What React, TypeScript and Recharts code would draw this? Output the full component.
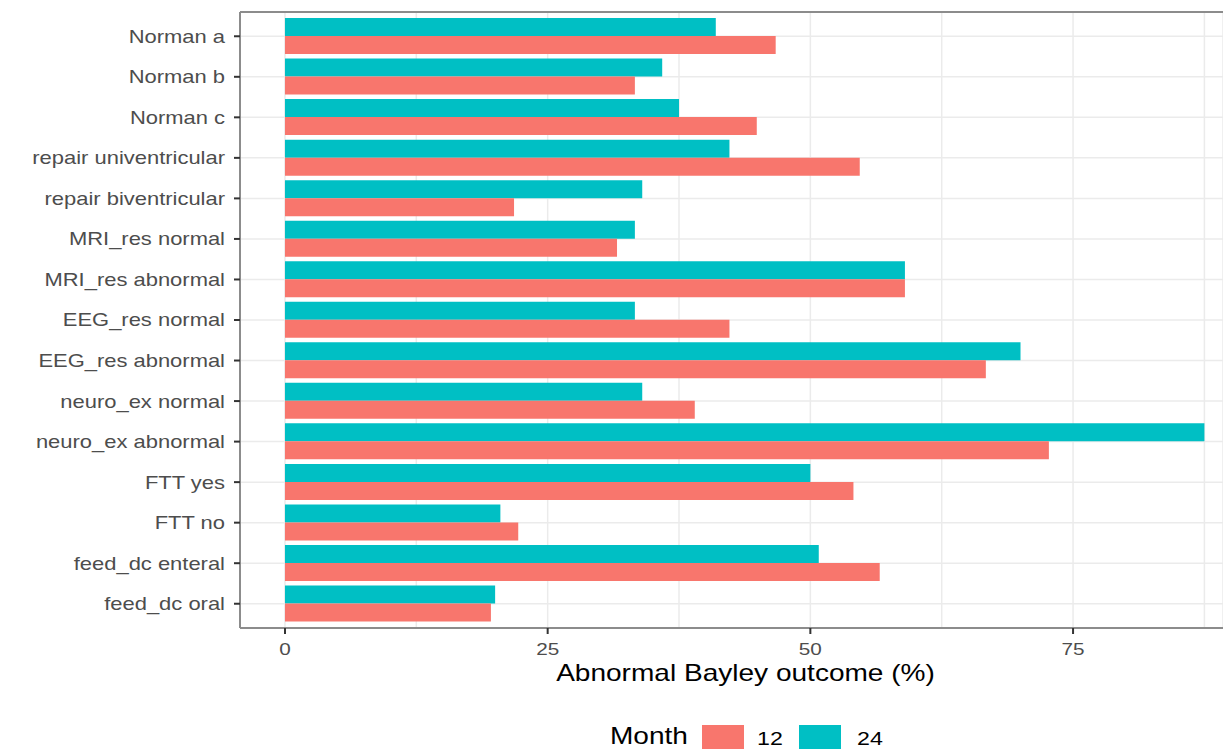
import { BarChart, Bar, XAxis, YAxis, CartesianGrid } from 'recharts';

const categories = [
  'Norman a',
  'Norman b',
  'Norman c',
  'repair univentricular',
  'repair biventricular',
  'MRI_res normal',
  'MRI_res abnormal',
  'EEG_res normal',
  'EEG_res abnormal',
  'neuro_ex normal',
  'neuro_ex abnormal',
  'FTT yes',
  'FTT no',
  'feed_dc enteral',
  'feed_dc oral',
];
const month12 = [46.7, 33.3, 44.9, 54.7, 21.8, 31.6, 59.0, 42.3, 66.7, 39.0, 72.7, 54.1, 22.2, 56.6, 19.6];
const month24 = [41.0, 35.9, 37.5, 42.3, 34.0, 33.3, 59.0, 33.3, 70.0, 34.0, 87.5, 50.0, 20.5, 50.8, 20.0];
const months = ['12', '24'];
const xTicks = [0, 25, 50, 75];
const gridTicks = [0, 12.5, 25, 37.5, 50, 62.5, 75, 87.5];
const COLORS = ['#F8766D', '#00BFC4'];

const data = categories.map((name, i) => ({ name, m12: month12[i], m24: month24[i] }));

const FONT = '"Liberation Sans", Arial, sans-serif';
const SX = 1.22; // source image is stretched horizontally
const DOMAIN: [number, number] = [-4.28, 89.27];

function YTick({ x, y, payload }: any) {
  return (
    <text
      transform={`translate(${x},${y}) scale(${SX},1)`}
      textAnchor="end"
      dy="0.36em"
      fontSize={18}
      fill="#4d4d4d"
      fontFamily={FONT}
    >
      {payload.value}
    </text>
  );
}

function XTick({ x, y, payload }: any) {
  return (
    <text
      transform={`translate(${x},${y}) scale(${SX},1)`}
      textAnchor="middle"
      dy="0.71em"
      fontSize={17}
      fill="#4d4d4d"
      fontFamily={FONT}
    >
      {payload.value}
    </text>
  );
}

function AxisTitle({ viewBox }: any) {
  const cx = viewBox.x + viewBox.width / 2 + 14;
  return (
    <text
      transform={`translate(${cx},${viewBox.y + 53}) scale(${SX},1)`}
      textAnchor="middle"
      fontSize={23}
      fill="#000"
      fontFamily={FONT}
    >
      Abnormal Bayley outcome (%)
    </text>
  );
}

export default function App() {
  return (
    <div
      style={{
        position: 'absolute',
        left: 0,
        top: 0,
        width: 1223,
        height: 749,
        overflow: 'hidden',
        background: '#fff',
      }}
    >
      <BarChart
        width={1223}
        height={749}
        data={data}
        layout="vertical"
        margin={{ top: 11, right: 0, bottom: 91, left: 0 }}
        barCategoryGap="5%"
        barGap={0}
      >
        <XAxis xAxisId="grid" type="number" domain={DOMAIN} ticks={gridTicks} allowDataOverflow hide />
        <CartesianGrid xAxisId="grid" stroke="#ebebeb" strokeWidth={1.5} />
        <XAxis
          xAxisId="top"
          orientation="top"
          type="number"
          domain={DOMAIN}
          allowDataOverflow
          height={1}
          tick={false}
          tickLine={false}
          axisLine={{ stroke: '#8c8c8c', strokeWidth: 2 }}
        />
        <XAxis
          type="number"
          domain={DOMAIN}
          ticks={xTicks}
          allowDataOverflow
          height={30}
          tickSize={6}
          tickMargin={9}
          tick={<XTick />}
          tickLine={{ stroke: '#333', strokeWidth: 2 }}
          axisLine={{ stroke: '#8c8c8c', strokeWidth: 2 }}
          label={{ content: AxisTitle }}
        />
        <YAxis
          type="category"
          dataKey="name"
          width={240}
          interval={0}
          padding={{ top: 4, bottom: 4 }}
          tickSize={6}
          tickMargin={9}
          tick={<YTick />}
          tickLine={{ stroke: '#333', strokeWidth: 2 }}
          axisLine={{ stroke: '#8c8c8c', strokeWidth: 2 }}
        />
        <Bar dataKey="m24" fill={COLORS[1]} isAnimationActive={false} />
        <Bar dataKey="m12" fill={COLORS[0]} isAnimationActive={false} />
      </BarChart>
      <svg
        width={1223}
        height={749}
        style={{ position: 'absolute', left: 0, top: 0, pointerEvents: 'none' }}
      >
        <text transform={`translate(610,744) scale(${SX},1)`} fontSize={23} fill="#000" fontFamily={FONT}>
          Month
        </text>
        {months.map((m, i) => (
          <g key={m}>
            <rect x={702 + i * 97} y={725} width={42} height={35} fill={COLORS[i]} />
            <text
              transform={`translate(${757 + i * 100},744.5) scale(${SX},1)`}
              fontSize={19}
              fill="#000"
              fontFamily={FONT}
            >
              {m}
            </text>
          </g>
        ))}
      </svg>
    </div>
  );
}
